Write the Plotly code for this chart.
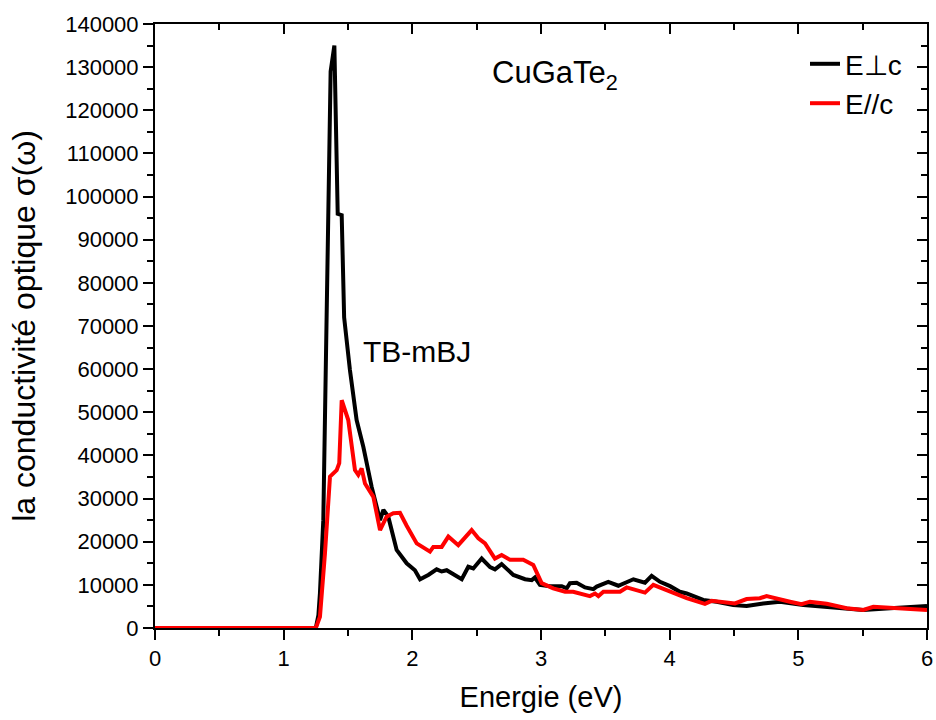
import plotly.graph_objects as go

# E perpendicular c (black)
e_perp_x = [0, 1.24, 1.25, 1.27, 1.282, 1.308, 1.334, 1.365, 1.394, 1.42, 1.451, 1.47,
            1.515, 1.567, 1.619, 1.645, 1.684, 1.749, 1.775, 1.813, 1.878, 1.956, 2.02,
            2.06, 2.124, 2.189, 2.228, 2.267, 2.384, 2.435, 2.474, 2.539, 2.604, 2.642,
            2.694, 2.785, 2.876, 2.928, 2.953, 2.992, 3.07, 3.161, 3.2, 3.225, 3.277,
            3.342, 3.407, 3.433, 3.523, 3.601, 3.718, 3.808, 3.86, 3.925, 4.003, 4.079,
            4.132, 4.261, 4.365, 4.494, 4.598, 4.727, 4.857, 5.039, 5.22, 5.505, 5.715, 6.0]
e_perp_y = [0, 0, 0, 3000, 8100, 25000, 71000, 129000, 135000, 96000, 95700, 72000,
            59800, 48200, 42000, 38200, 32700, 25000, 27400, 25800, 18100, 15000, 13400,
            11300, 12300, 13600, 13100, 13400, 11300, 14200, 13800, 16100, 14100, 13600,
            14800, 12300, 11300, 11100, 11700, 10000, 9700, 9700, 9200, 10400, 10500,
            9400, 9000, 9600, 10700, 9800, 11300, 10500, 12100, 10700, 9700, 8400,
            8000, 6500, 6100, 5300, 5100, 5700, 6100, 5300, 4900, 4200, 4600, 5100]

# E parallel c (red)
e_par_x = [0, 1.25, 1.282, 1.321, 1.36, 1.412, 1.432, 1.451, 1.502, 1.554, 1.58, 1.606,
           1.632, 1.697, 1.749, 1.8, 1.852, 1.904, 1.956, 2.034, 2.137, 2.163, 2.228,
           2.28, 2.357, 2.461, 2.513, 2.565, 2.642, 2.694, 2.759, 2.862, 2.94, 3.005,
           3.095, 3.187, 3.25, 3.303, 3.38, 3.42, 3.446, 3.485, 3.614, 3.666, 3.808,
           3.873, 4.029, 4.132, 4.274, 4.326, 4.507, 4.598, 4.701, 4.753, 4.935, 5.025,
           5.09, 5.22, 5.376, 5.505, 5.583, 6.0]
e_par_y = [0, 0, 2600, 17300, 35100, 36600, 38200, 52800, 48200, 36600, 35500, 37000,
           33500, 30400, 22700, 25800, 26600, 26700, 23700, 19600, 17700, 18800, 18800,
           21200, 19200, 22700, 20800, 19600, 16100, 16900, 15800, 15800, 14600, 10400,
           9200, 8400, 8400, 8000, 7400, 8000, 7400, 8400, 8400, 9400, 8200,
           10000, 8200, 6900, 5600, 6300, 5700, 6700, 6900, 7400, 6100, 5500,
           6100, 5600, 4600, 4200, 4900, 4200]

FONT = "Liberation Sans, Arial, sans-serif"

fig = go.Figure()
fig.add_trace(go.Scatter(x=e_perp_x, y=e_perp_y, mode="lines", name="E\u22a5c",
                         line=dict(color="black", width=4)))
fig.add_trace(go.Scatter(x=e_par_x, y=e_par_y, mode="lines", name="E//c",
                         line=dict(color="red", width=4)))
# empty trace to activate mirrored top/right axes
fig.add_trace(go.Scatter(x=[], y=[], xaxis="x2", yaxis="y2", showlegend=False,
                         hoverinfo="skip"))

axis_common = dict(showline=True, linecolor="black", linewidth=2, showgrid=False,
                   zeroline=False, tickcolor="black", tickwidth=2, automargin=False)

fig.update_layout(
    width=936, height=720,
    margin=dict(l=155, r=9, t=24, b=92),
    paper_bgcolor="white", plot_bgcolor="white",
    font=dict(family=FONT, color="black"),
    xaxis=dict(range=[0, 6], dtick=1, ticks="outside", ticklen=10,
               minor=dict(dtick=0.5, ticks="outside", ticklen=6, tickcolor="black", tickwidth=2),
               tickfont=dict(size=22),
               title=dict(text="Energie (eV)", font=dict(size=29), standoff=16),
               **axis_common),
    yaxis=dict(range=[0, 140000], dtick=10000, ticks="outside", ticklen=10,
               tickformat="d",
               minor=dict(dtick=5000, ticks="outside", ticklen=6, tickcolor="black", tickwidth=2),
               tickfont=dict(size=22),
               title=dict(text="la conductivité optique σ(ω)", font=dict(size=32), standoff=20),
               **axis_common),
    xaxis2=dict(range=[0, 6], overlaying="x", side="top", dtick=1, ticks="inside",
                ticklen=10, showticklabels=False,
                minor=dict(dtick=0.5, ticks="inside", ticklen=6, tickcolor="black", tickwidth=2),
                **axis_common),
    yaxis2=dict(range=[0, 140000], overlaying="y", side="right", dtick=10000,
                ticks="inside", ticklen=10, showticklabels=False,
                minor=dict(dtick=5000, ticks="inside", ticklen=6, tickcolor="black", tickwidth=2),
                **axis_common),
    legend=dict(x=0.842, y=0.975, xanchor="left", yanchor="top",
                font=dict(size=28), bgcolor="rgba(0,0,0,0)", tracegroupgap=0),
    annotations=[
        dict(x=3.11, y=128200, xref="x", yref="y", text="CuGaTe<sub>2</sub>",
             showarrow=False, font=dict(size=31)),
        dict(x=2.04, y=64000, xref="x", yref="y", text="TB-mBJ",
             showarrow=False, font=dict(size=30)),
    ],
)

fig.write_html("out.html")
